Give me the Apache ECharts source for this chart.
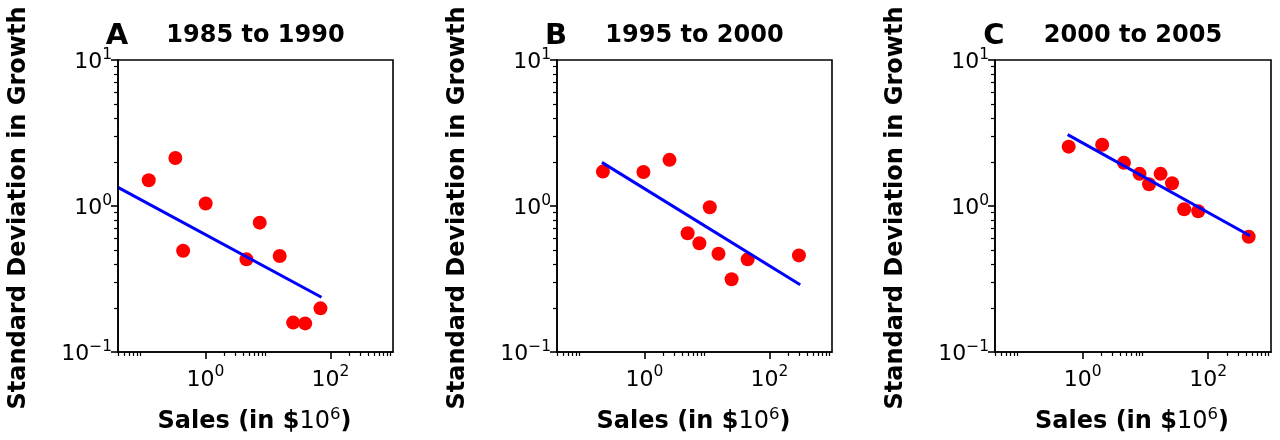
<!DOCTYPE html>
<html>
<head>
<meta charset="utf-8">
<script src="https://cdn.jsdelivr.net/npm/echarts@6/dist/echarts.min.js"></script>
<style>html,body{margin:0;padding:0;background:#fff}#c{width:1280px;height:440px}</style>
</head>
<body>
<div id="c"></div>
<script>
// ---- data ----
const panelLetters = ['A', 'B', 'C'];
const panelTitles = ['1985 to 1990', '1995 to 2000', '2000 to 2005'];
const salesA = [0.124, 0.331, 0.44, 1.01, 4.53, 7.39, 15.4, 25.3, 39.4, 69.2];
const sdA    = [1.50, 2.13, 0.494, 1.04, 0.431, 0.769, 0.455, 0.159, 0.157, 0.199];
const fitA   = [[0.04, 1.34], [71.8, 0.237]];
const salesB = [0.217, 0.964, 2.52, 11.1, 4.91, 7.57, 15.3, 24.8, 44.8, 296];
const sdB    = [1.72, 1.71, 2.07, 0.98, 0.65, 0.556, 0.471, 0.315, 0.431, 0.459];
const fitB   = [[0.209, 1.99], [310, 0.289]];
const salesC = [0.597, 2.04, 4.53, 8.05, 11.4, 17.4, 26.5, 41.3, 69.2, 441];
const sdC    = [2.55, 2.63, 1.98, 1.66, 1.41, 1.66, 1.43, 0.95, 0.92, 0.616];
const fitC   = [[0.575, 3.08], [463, 0.626]];
const xMajorTicks = [1, 100];
const xMinorTicks = [0.04, 0.05, 0.06, 0.07, 0.08, 0.09, 2, 3, 4, 5, 6, 7, 8, 9, 200, 300, 400, 500, 600, 700, 800, 900];
const yMajorTicks = [0.1, 1, 10];
const yMinorTicks = [0.2, 0.3, 0.4, 0.5, 0.6, 0.7, 0.8, 0.9, 2, 3, 4, 5, 6, 7, 8, 9];
const xRange = [0.04, 1000];
const yRange = [0.1, 10];
const yLabel = 'Standard Deviation in Growth';

// ---- layout ----
const grids = [
  {left: 118, top: 60, width: 275, height: 292},
  {left: 557, top: 60, width: 275, height: 292},
  {left: 995, top: 60, width: 276, height: 292}
];
const FONT = 'DejaVu Sans';
const supRich = {
  b: {fontSize: 22, fontFamily: FONT, color: '#000', lineHeight: 27, verticalAlign: 'bottom'},
  s: {fontSize: 15.5, fontFamily: FONT, color: '#000', lineHeight: 13, verticalAlign: 'top'}
};
function powLabel(v) {
  const e = Math.round(Math.log10(v));
  return '{b|10}{s|' + (e < 0 ? '\u2212' + (-e) : e) + '}';
}
const series = [], xAxes = [], yAxes = [], graphics = [];
const data = [[salesA, sdA, fitA], [salesB, sdB, fitB], [salesC, sdC, fitC]];

grids.forEach((g, i) => {
  xAxes.push({
    gridIndex: i, type: 'log', logBase: 10, min: xRange[0], max: xRange[1], position: 'bottom',
    axisLine: {show: true, onZero: false, lineStyle: {color: '#000', width: 1.6}},
    axisTick: {show: true, customValues: xMajorTicks, length: 7, lineStyle: {color: '#000', width: 1.6}},
    axisLabel: {show: true, customValues: xMajorTicks, formatter: powLabel, rich: supRich, margin: 12},
    splitLine: {show: false}, minorTick: {show: false}, z: 5
  });
  xAxes.push({
    gridIndex: i, type: 'log', logBase: 10, min: xRange[0], max: xRange[1], position: 'bottom',
    axisLine: {show: false, onZero: false},
    axisTick: {show: true, customValues: xMinorTicks, length: 4, lineStyle: {color: '#000', width: 1.2}},
    axisLabel: {show: false}, splitLine: {show: false}, z: 5
  });
  yAxes.push({
    gridIndex: i, type: 'log', logBase: 10, min: yRange[0], max: yRange[1], position: 'left',
    axisLine: {show: true, onZero: false, lineStyle: {color: '#000', width: 1.6}},
    axisTick: {show: true, customValues: yMajorTicks, length: 7, lineStyle: {color: '#000', width: 1.6}},
    axisLabel: {show: true, customValues: yMajorTicks, formatter: powLabel, rich: supRich, margin: 6},
    splitLine: {show: false}, z: 5
  });
  yAxes.push({
    gridIndex: i, type: 'log', logBase: 10, min: yRange[0], max: yRange[1], position: 'left',
    axisLine: {show: false, onZero: false},
    axisTick: {show: true, customValues: yMinorTicks, length: 4, lineStyle: {color: '#000', width: 1.2}},
    axisLabel: {show: false}, splitLine: {show: false}, z: 5
  });
  const [xs, ys, fit] = data[i];
  series.push({
    type: 'scatter', xAxisIndex: 2 * i, yAxisIndex: 2 * i,
    data: xs.map((x, k) => [x, ys[k]]),
    symbol: 'circle', symbolSize: 14, itemStyle: {color: '#ff0000', opacity: 1}, z: 2
  });
  series.push({
    type: 'line', xAxisIndex: 2 * i, yAxisIndex: 2 * i,
    data: fit, symbol: 'none', lineStyle: {color: '#0000ff', width: 3}, z: 3
  });
  const cx = g.left + g.width / 2;
  graphics.push({
    type: 'text', x: cx, y: 36,
    style: {text: panelTitles[i], font: 'bold 24px "DejaVu Sans"', fill: '#000', align: 'center', verticalAlign: 'middle'}
  });
  graphics.push({
    type: 'text', x: g.left - 1, y: 36,
    style: {text: panelLetters[i], font: 'bold 29px "DejaVu Sans"', fill: '#000', align: 'center', verticalAlign: 'middle'}
  });
  graphics.push({
    type: 'text', x: g.left - 99, y: g.top + g.height / 2 + 2, rotation: Math.PI / 2,
    style: {text: yLabel, font: 'bold 24px "DejaVu Sans"', fill: '#000', align: 'center', verticalAlign: 'middle'}
  });
  graphics.push({
    type: 'text', x: cx - 1, y: 420,
    style: {
      text: '{t|Sales (in $}{m|10}{s|6}{t|)}', align: 'center', verticalAlign: 'middle',
      rich: {
        t: {fontSize: 24, fontWeight: 'bold', fontFamily: FONT, fill: '#000', lineHeight: 28, verticalAlign: 'bottom'},
        m: {fontSize: 24, fontFamily: FONT, fill: '#000', lineHeight: 28, verticalAlign: 'bottom'},
        s: {fontSize: 16.5, fontFamily: FONT, fill: '#000', lineHeight: 14, verticalAlign: 'top'}
      }
    }
  });
});

const chart = echarts.init(document.getElementById('c'), null, {renderer: 'canvas'});
chart.setOption({
  animation: false,
  backgroundColor: '#fff',
  grid: grids.map(g => Object.assign({show: true, borderColor: '#000', borderWidth: 1.6, backgroundColor: 'transparent', containLabel: false}, g)),
  xAxis: xAxes,
  yAxis: yAxes,
  series: series,
  graphic: graphics
});
</script>
</body>
</html>
